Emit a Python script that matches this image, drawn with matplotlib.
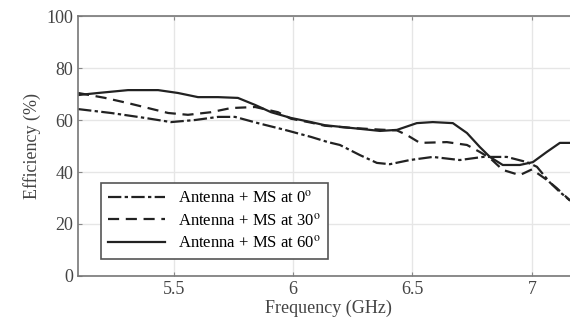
import numpy as np
import matplotlib
matplotlib.use('Agg')
import matplotlib.pyplot as plt

plt.rc('font', family='Liberation Serif', size=13)
plt.rc('mathtext', fontset='stix')

# 0 deg (dash-dot)
f0 = [5.10, 5.238, 5.380, 5.489, 5.590, 5.686, 5.757, 5.853, 5.966, 6.075, 6.146,
      6.196, 6.280, 6.351, 6.405, 6.489, 6.585, 6.698, 6.795, 6.895, 6.979, 7.021,
      7.075, 7.117, 7.16]
e0 = [64.2, 62.7, 60.8, 59.2, 60.0, 61.2, 61.2, 58.8, 56.2, 53.5, 51.5,
      50.4, 46.5, 43.5, 43.0, 44.6, 45.8, 44.6, 45.8, 45.8, 43.8, 42.0,
      36.0, 32.3, 29.0]

# 30 deg (dashed)
f30 = [5.10, 5.213, 5.309, 5.393, 5.477, 5.560, 5.656, 5.740, 5.841, 5.937, 5.991,
       6.075, 6.133, 6.238, 6.364, 6.435, 6.477, 6.531, 6.644, 6.728, 6.782, 6.824,
       6.878, 6.949, 7.00, 7.062, 7.104, 7.16]
e30 = [70.4, 68.5, 66.5, 64.6, 62.7, 62.0, 63.0, 64.6, 65.0, 63.0, 60.5,
       59.0, 57.8, 57.0, 56.3, 56.0, 54.2, 51.2, 51.5, 50.4, 47.7, 45.4,
       40.8, 38.8, 41.0, 37.0, 33.8, 29.0]

# 60 deg (solid)
f60 = [5.10, 5.184, 5.309, 5.435, 5.518, 5.602, 5.686, 5.769, 5.841, 5.908, 5.991,
       6.075, 6.133, 6.238, 6.364, 6.435, 6.518, 6.585, 6.669, 6.728, 6.782, 6.824,
       6.878, 6.949, 7.004, 7.062, 7.117, 7.16]
e60 = [69.6, 70.4, 71.5, 71.5, 70.4, 68.8, 68.8, 68.5, 65.8, 63.0, 60.8,
       59.2, 58.0, 57.0, 55.8, 56.2, 58.8, 59.2, 58.8, 55.0, 49.6, 45.8,
       42.7, 42.7, 43.8, 47.7, 51.2, 51.2]

labels = [r'Antenna + MS at 0$^{\mathrm{o}}$',
          r'Antenna + MS at 30$^{\mathrm{o}}$',
          r'Antenna + MS at 60$^{\mathrm{o}}$']

fig = plt.figure(figsize=(5.7, 3.27), dpi=100)
ax = fig.add_axes([0.137, 0.156, 0.88, 0.795])

ax.plot(f0, e0, color='#222222', lw=1.6, dashes=(6, 1.5, 1.5, 1.5), label=labels[0])
ax.plot(f30, e30, color='#222222', lw=1.6, dashes=(5, 3), label=labels[1])
ax.plot(f60, e60, color='#222222', lw=1.6, ls='-', label=labels[2])

ax.set_xlim(5.1, 7.2)
ax.set_ylim(0, 100)
ax.set_xticks([5.5, 6, 6.5, 7])
ax.set_xticklabels(['5.5', '6', '6.5', '7'])
ax.set_yticks([0, 20, 40, 60, 80, 100])
ax.grid(True, color='#e6e6e6', lw=1)
ax.tick_params(direction='in', top=True, length=3, color='#888888', labelcolor='#444444')
for s in ax.spines.values():
    s.set_color('#777777')
    s.set_linewidth(1.2)

ax.set_xlabel('Frequency (GHz)', color='#444444', labelpad=1)
ax.set_ylabel('Efficiency (%)', color='#444444')

leg = ax.legend(loc='lower left', bbox_to_anchor=(0.03, 0.035), fontsize=12,
                fancybox=False, framealpha=1, edgecolor='#555555',
                handlelength=3.4, borderpad=0.4, labelspacing=0.35)
leg.get_frame().set_linewidth(1.2)

fig.savefig('out.png', dpi=100)
